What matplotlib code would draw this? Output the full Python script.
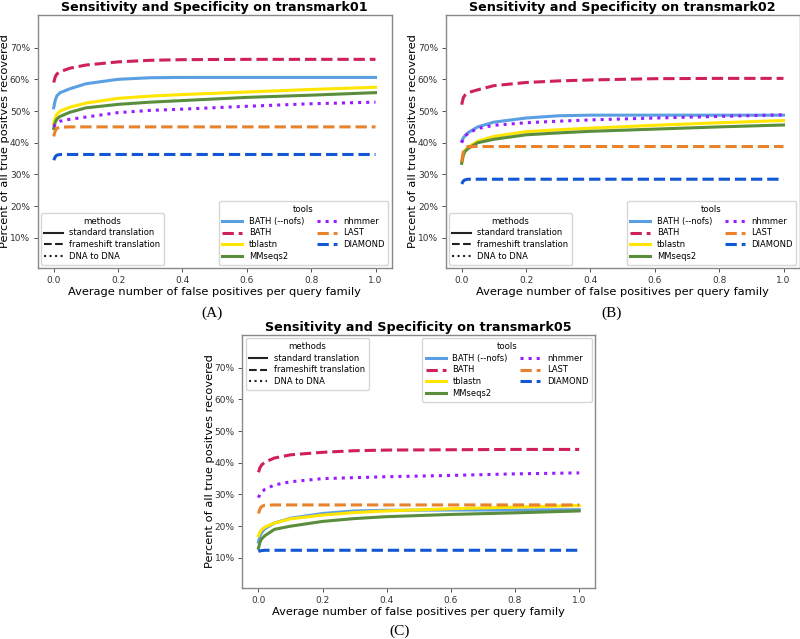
import matplotlib
matplotlib.use("Agg")
import matplotlib.pyplot as plt
from matplotlib.lines import Line2D
from matplotlib.ticker import PercentFormatter

# x positions (average false positives per query family) where values were read
fp = [0.0, 0.005, 0.01, 0.02, 0.05, 0.1, 0.2, 0.3, 0.4, 0.6, 0.8, 1.0]

tools = ["BATH (--nofs)", "BATH", "tblastn", "MMseqs2", "nhmmer", "LAST", "DIAMOND"]
colors = ["#5b9fe3", "#cf2159", "#ffe500", "#5a8e3c", "#9a1bff", "#e9822c", "#1257d4"]
styles = ["-", "--", "-", "-", ":", "--", "--"]

# percent of all true positives recovered (%)
tm01 = {
    "BATH (--nofs)": [51.0, 53.5, 54.8, 55.8, 57.0, 58.6, 60.0, 60.5, 60.6, 60.6, 60.6, 60.6],
    "BATH":          [59.0, 60.8, 61.7, 62.4, 63.5, 64.5, 65.5, 66.0, 66.2, 66.3, 66.3, 66.3],
    "tblastn":       [46.0, 48.0, 49.0, 50.0, 51.2, 52.5, 54.0, 54.7, 55.2, 56.0, 56.8, 57.5],
    "MMseqs2":       [44.5, 46.5, 47.5, 48.3, 49.6, 51.0, 52.1, 52.8, 53.3, 54.3, 55.0, 55.8],
    "nhmmer":        [45.0, 45.8, 46.3, 46.8, 47.4, 48.1, 49.5, 50.2, 50.6, 51.5, 52.3, 52.8],
    "LAST":          [42.0, 43.8, 44.6, 44.9, 45.0, 45.0, 45.0, 45.0, 45.0, 45.0, 45.0, 45.0],
    "DIAMOND":       [34.5, 35.6, 36.1, 36.3, 36.3, 36.3, 36.3, 36.3, 36.3, 36.3, 36.3, 36.3],
}
tm02 = {
    "BATH (--nofs)": [40.5, 41.5, 42.2, 43.2, 45.0, 46.5, 47.8, 48.5, 48.7, 48.7, 48.7, 48.7],
    "BATH":          [52.0, 54.2, 55.0, 55.8, 56.7, 58.0, 59.0, 59.5, 59.8, 60.2, 60.3, 60.3],
    "tblastn":       [34.0, 36.5, 37.6, 38.6, 40.5, 42.0, 43.5, 44.1, 44.6, 45.5, 46.3, 47.0],
    "MMseqs2":       [33.5, 36.0, 37.2, 38.2, 40.0, 41.1, 42.5, 43.1, 43.6, 44.3, 45.0, 45.6],
    "nhmmer":        [40.0, 41.2, 42.0, 43.0, 44.5, 45.5, 46.3, 46.8, 47.2, 47.8, 48.3, 48.8],
    "LAST":          [34.0, 37.0, 38.5, 38.8, 38.8, 38.8, 38.8, 38.8, 38.8, 38.8, 38.8, 38.8],
    "DIAMOND":       [27.0, 27.9, 28.3, 28.5, 28.5, 28.5, 28.5, 28.5, 28.5, 28.5, 28.5, 28.5],
}
tm05 = {
    "BATH (--nofs)": [15.0, 17.0, 18.0, 19.2, 21.0, 22.5, 24.0, 24.8, 25.0, 25.1, 25.1, 25.2],
    "BATH":          [37.0, 38.5, 39.3, 40.2, 41.5, 42.5, 43.3, 43.8, 44.0, 44.1, 44.2, 44.2],
    "tblastn":       [17.0, 18.2, 18.9, 19.7, 21.0, 22.3, 23.5, 24.3, 24.8, 25.5, 26.0, 26.5],
    "MMseqs2":       [13.0, 15.0, 16.0, 17.0, 19.0, 20.0, 21.5, 22.4, 23.0, 23.7, 24.2, 24.8],
    "nhmmer":        [29.0, 30.2, 30.8, 31.6, 33.0, 34.0, 35.0, 35.3, 35.6, 36.0, 36.5, 36.8],
    "LAST":          [24.0, 25.5, 26.2, 26.6, 26.7, 26.7, 26.7, 26.7, 26.7, 26.7, 26.7, 26.7],
    "DIAMOND":       [12.0, 12.2, 12.3, 12.4, 12.4, 12.4, 12.4, 12.4, 12.4, 12.4, 12.4, 12.4],
}

plt.rcParams["font.family"] = "DejaVu Sans"

fig = plt.figure(figsize=(8, 6.39), dpi=100)


def draw_panel(pos, data, name, caption, cap_xy, legend_top):
    ax = fig.add_axes(pos)
    for t, c, s in zip(tools, colors, styles):
        ax.plot(fp, data[t], color=c, ls=s, lw=2.2, label=t)
    ax.set_xlim(-0.05, 1.05)
    ax.set_ylim(0.5, 80.3)
    ax.set_yticks([10, 20, 30, 40, 50, 60, 70])
    ax.yaxis.set_major_formatter(PercentFormatter(decimals=0))
    ax.set_xticks([0, 0.2, 0.4, 0.6, 0.8, 1.0])
    ax.tick_params(labelsize=6.5, colors="#333333", length=3, width=0.6, pad=2.5)
    for sp in ax.spines.values():
        sp.set_color("#888888")
        sp.set_linewidth(1.0)
    ax.set_title("Sensitivity and Specificity on " + name, fontsize=9.2,
                 fontweight="bold", pad=3)
    ax.set_xlabel("Average number of false positives per query family", fontsize=8.2, labelpad=2)
    ax.set_ylabel("Percent of all true positves recovered", fontsize=8.2)
    ax.yaxis.set_label_coords(-0.078, 0.5)

    method_handles = [Line2D([], [], color="#222222", ls="-", lw=1.5),
                      Line2D([], [], color="#222222", ls="--", lw=1.5),
                      Line2D([], [], color="#222222", ls=":", lw=1.5)]
    loc1 = "upper left" if legend_top else "lower left"
    loc2 = "upper right" if legend_top else "lower right"
    leg1 = ax.legend(method_handles,
                     ["standard translation", "frameshift translation", "DNA to DNA"],
                     title="methods", loc=loc1, fontsize=6, title_fontsize=6.2,
                     borderaxespad=0.4, handlelength=2.2, labelspacing=0.35)
    ax.add_artist(leg1)
    ax.legend(title="tools", loc=loc2, ncol=2, fontsize=6, title_fontsize=6.2,
              borderaxespad=0.4, handlelength=2.4, labelspacing=0.35, columnspacing=1.5)
    fig.text(cap_xy[0], cap_xy[1], caption, ha="center", va="center",
             fontsize=11, family="Liberation Serif")


draw_panel([0.047, 0.5806, 0.4425, 0.396], tm01, "transmark01", "(A)", (0.265, 0.51), False)
draw_panel([0.557, 0.5806, 0.4425, 0.396], tm02, "transmark02", "(B)", (0.764, 0.51), False)
draw_panel([0.303, 0.0798, 0.441, 0.396], tm05, "transmark05", "(C)", (0.5, 0.0125), True)

fig.savefig("out.png", dpi=100)
